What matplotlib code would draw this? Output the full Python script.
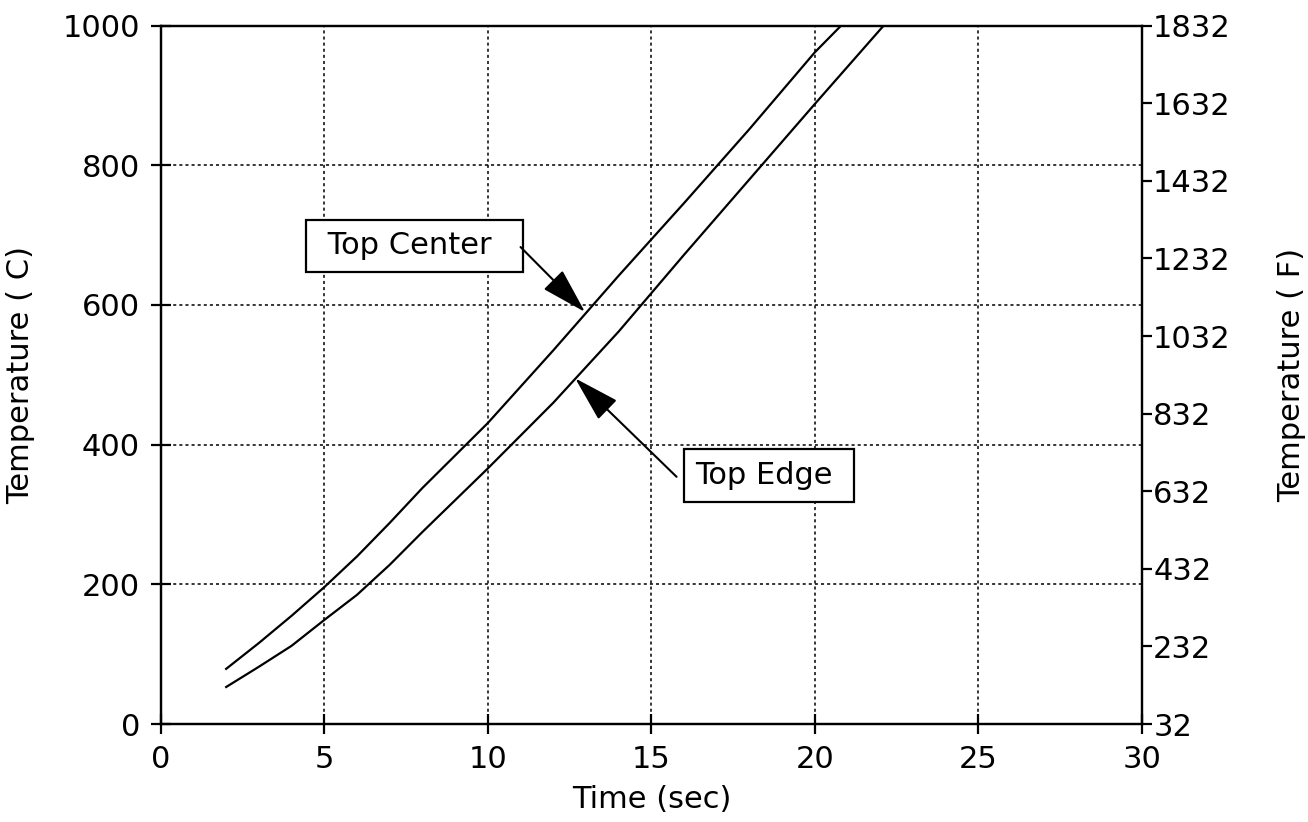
import numpy as np
import matplotlib
matplotlib.use('Agg')
import matplotlib.pyplot as plt


# temperature histories read at the two thermocouple locations
TIME_CENTER = [2, 3, 4, 5, 6, 7, 8, 10, 12, 14, 16, 18, 20, 20.8]
TEMP_CENTER = [79, 116, 155, 196, 240, 288, 338, 431, 535, 642, 746, 852, 962, 1000]

TIME_EDGE = [2, 3, 4, 5, 6, 7, 8, 10, 12, 14, 16, 18, 20, 22.1]
TEMP_EDGE = [53, 82, 112, 149, 185, 228, 275, 366, 460, 562, 672, 780, 888, 1000]

X_TICKS = [0, 5, 10, 15, 20, 25, 30]
C_TICKS = [0, 200, 400, 600, 800, 1000]
F_TICKS = [32, 232, 432, 632, 832, 1032, 1232, 1432, 1632, 1832]

FONT = 'DejaVu Sans'
FS = 22

plt.rcParams['font.family'] = FONT

fig = plt.figure(figsize=(13.08, 8.22), dpi=100)
ax = fig.add_axes([0.1229, 0.1192, 0.7502, 0.8496])

ax.plot(TIME_CENTER, TEMP_CENTER, color='k', lw=1.6)
ax.plot(TIME_EDGE, TEMP_EDGE, color='k', lw=1.6)

ax.set_xlim(0, 30)
ax.set_ylim(0, 1000)
ax.set_xticks(X_TICKS)
ax.set_yticks(C_TICKS)
ax.grid(True, color='k', linestyle=(0, (2, 2)), lw=1.1)

for sp in ax.spines.values():
    sp.set_linewidth(1.6)

ax.tick_params(axis='both', direction='inout', length=14, width=1.6,
               labelsize=FS, pad=8)
ax.set_xlabel('Time (sec)', fontsize=FS)
ax.xaxis.set_label_coords(0.5, -0.088)
ax.set_ylabel('Temperature ( C)', fontsize=FS)
ax.yaxis.set_label_coords(-0.128, 0.5)

# Fahrenheit scale on the right
ax2 = ax.twinx()
ax2.set_ylim(32, 1832)
ax2.set_yticks(F_TICKS)
ax2.tick_params(axis='y', direction='out', length=7, width=1.6,
                labelsize=FS, pad=1)
ax2.set_ylabel('Temperature ( F)', fontsize=FS)
ax2.yaxis.set_label_coords(1.138, 0.5)
for sp in ax2.spines.values():
    sp.set_linewidth(1.6)

# labels with arrows pointing at each curve
box = dict(boxstyle='square,pad=0.38', fc='white', ec='k', lw=1.6)
arrow = dict(arrowstyle='-|>,head_length=1.45,head_width=0.42',
             mutation_scale=20, color='k', lw=1.5, shrinkA=0, shrinkB=0)

ax.text(7.76, 685, ' Top Center  ', fontsize=FS, ha='center', va='center',
        bbox=box, zorder=5)
ax.annotate('', xy=(12.97, 590), xytext=(11.0, 683), arrowprops=arrow,
            zorder=5)

ax.text(18.6, 356, 'Top Edge ', fontsize=FS, ha='center', va='center',
        bbox=box, zorder=5)
ax.annotate('', xy=(12.67, 495), xytext=(15.77, 354), arrowprops=arrow,
            zorder=5)

fig.savefig('out.png', dpi=100)
